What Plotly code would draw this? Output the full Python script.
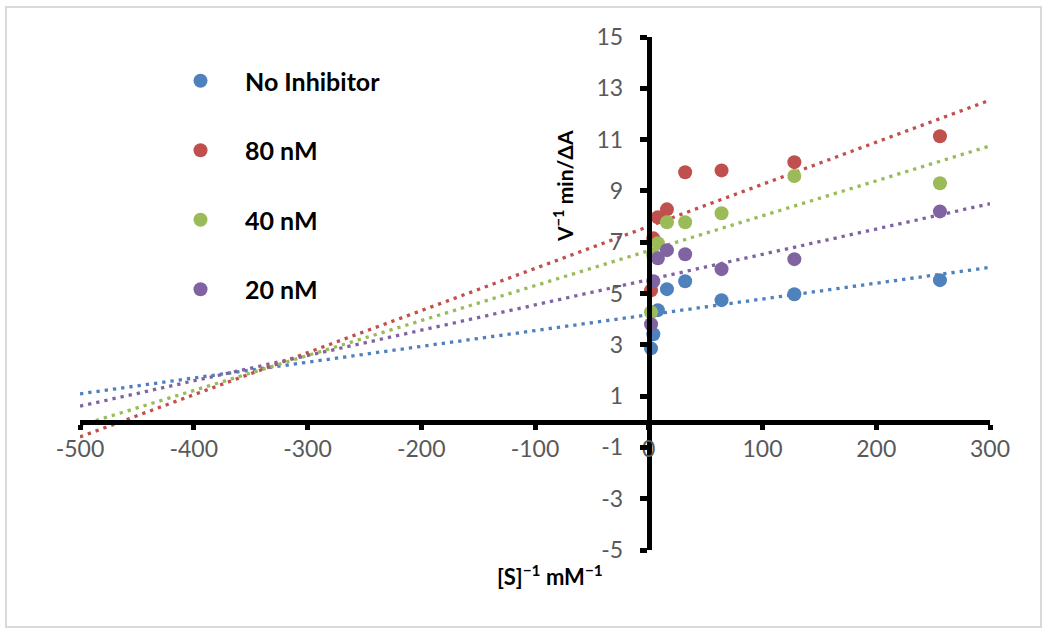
import numpy as np
import plotly.graph_objects as go

# ---- data ----
s_inv = [2, 4, 8, 16, 32, 64, 128, 256]
no_inhibitor = [2.86, 3.41, 4.35, 5.17, 5.48, 4.74, 4.97, 5.52]
nm80 = [5.12, 7.15, 7.97, 8.28, 9.73, 9.80, 10.12, 11.13]
nm40 = [4.27, 6.49, 6.96, 7.78, 7.78, 8.13, 9.58, 9.30]
nm20 = [3.80, 5.48, 6.37, 6.69, 6.53, 5.95, 6.34, 8.20]

series_names = ["No Inhibitor", "80 nM", "40 nM", "20 nM"]
series_values = [no_inhibitor, nm80, nm40, nm20]
colors = ["#4F81BD", "#C0504D", "#9BBB59", "#8064A2"]

x_tickvals = [-500, -400, -300, -200, -100, 0, 100, 200, 300]
x_ticktext = ["-500", "-400", "-300", "-200", "-100", "0", "100", "200", "300"]
y_tickvals = [-5, -3, -1, 1, 3, 5, 7, 9, 11, 13, 15]
y_ticktext = ["-5", "-3", "-1", "1", "3", "5", "7", "9", "11", "13", "15"]

x_range = [-500, 300]
y_range = [-5, 15]

fig = go.Figure()

# trendlines (linear fit, forecast backward/forward across axis range)
for name, vals, col in zip(series_names, series_values, colors):
    slope, intercept = np.polyfit(s_inv, vals, 1)
    xs = np.array(x_range, dtype=float)
    fig.add_trace(go.Scatter(
        x=xs, y=slope * xs + intercept, mode="lines",
        line=dict(color=col, width=3.3, dash="3.3px,5px"),
        showlegend=False, hoverinfo="skip", legendgroup=name,
    ))

for name, vals, col in zip(series_names, series_values, colors):
    fig.add_trace(go.Scatter(
        x=s_inv, y=vals, mode="markers", name=name, legendgroup=name,
        marker=dict(color=col, size=14),
    ))

L, R, T, B = 80, 60, 37, 86
W, H = 1050, 636
pw, ph = W - L - R, H - T - B

def px_x(p):
    return (p - L) / pw

def px_y(p):
    return 1 - (p - T) / ph

tickfont = dict(family="Lato, sans-serif", size=23, color="#595959")

fig.update_layout(
    width=W, height=H,
    margin=dict(l=L, r=R, t=T, b=B),
    paper_bgcolor="white", plot_bgcolor="white",
    xaxis=dict(
        range=x_range, anchor="free",
        position=(0 - y_range[0]) / (y_range[1] - y_range[0]),
        tickvals=x_tickvals, ticktext=x_ticktext,
        showline=True, linewidth=5, linecolor="black",
        ticks="outside", ticklen=5, tickwidth=5, tickcolor="black",
        showgrid=False, zeroline=False, tickfont=tickfont,
        ticklabelstandoff=0,
    ),
    yaxis=dict(
        range=y_range, anchor="free",
        position=(0 - x_range[0]) / (x_range[1] - x_range[0]),
        tickvals=y_tickvals, ticktext=y_ticktext,
        showline=True, linewidth=5, linecolor="black",
        ticks="outside", ticklen=7, tickwidth=5, tickcolor="black",
        showgrid=False, zeroline=False, tickfont=tickfont,
        ticklabelstandoff=12,
    ),
    legend=dict(
        x=px_x(156), y=px_y(58), xanchor="left", yanchor="top",
        font=dict(family="Lato, sans-serif", size=25, color="black", weight="bold"),
        tracegroupgap=34, traceorder="grouped", bgcolor="rgba(0,0,0,0)",
        itemwidth=79,
    ),
    font=dict(family="Lato, sans-serif"),
    annotations=[
        dict(text="V<sup>−1</sup> min/ΔA", xref="paper", yref="paper",
             x=px_x(563), y=px_y(186), textangle=-90, showarrow=False,
             font=dict(family="Lato, sans-serif", size=21, color="black", weight="bold"),
             xanchor="center", yanchor="middle"),
        dict(text="[S]<sup>−1</sup> mM<sup>−1</sup>", xref="paper", yref="paper",
             x=px_x(550), y=px_y(575), showarrow=False,
             font=dict(family="Lato, sans-serif", size=22, color="black", weight="bold"),
             xanchor="center", yanchor="middle"),
    ],
    shapes=[
        dict(type="rect", xref="paper", yref="paper",
             x0=px_x(6), x1=px_x(1041), y0=px_y(627), y1=px_y(7),
             line=dict(color="#D9D9D9", width=2), layer="below"),
    ],
)

fig.write_html(
    "out.html",
    config={"displayModeBar": False},
    post_script="document.body.style.margin='0';document.body.style.overflow='hidden';",
)
